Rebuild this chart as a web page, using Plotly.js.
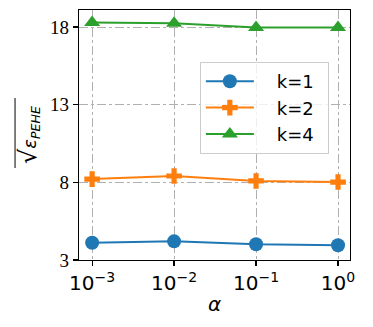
<!DOCTYPE html>
<html>
<head>
<meta charset="utf-8">
<script src="https://cdn.plot.ly/plotly-3.0.1.min.js"></script>
<style>
  html, body { margin: 0; padding: 0; background: #fff; }
  #chart { width: 373px; height: 327px; }
</style>
</head>
<body>
<div id="chart"></div>
<script>
/* ---- data ---- */
const ALPHAS = [0.001, 0.01, 0.1, 1];
const ALPHA_LABELS = ['10<sup>−3</sup>', '10<sup>−2</sup>', '10<sup>−1</sup>', '10<sup>0</sup>'];
const K1 = [4.11, 4.20, 4.01, 3.95];
const K2 = [8.21, 8.41, 8.09, 8.02];
const K4 = [18.30, 18.24, 17.98, 17.97];
const Y_TICKS = [3, 8, 13, 18];

const SERIES = [
  { name: 'k=1', y: K1, color: '#1f77b4', symbol: 'circle', size: 14 },
  { name: 'k=2', y: K2, color: '#ff7f0e', symbol: 'cross', size: 13 },
  { name: 'k=4', y: K4, color: '#2ca02c', symbol: 'triangle-up', size: 14 },
];

// matplotlib leaves a wider gap between handle and label
const LEGEND_PAD = '\u2002\u2002';

const traces = SERIES.map(s => ({
  x: ALPHAS,
  y: s.y,
  type: 'scatter',
  mode: 'lines+markers',
  name: LEGEND_PAD + s.name + '\u2002',
  line: { color: s.color, width: 2 },
  marker: { color: s.color, symbol: s.symbol, size: s.size, line: { width: 0 } },
}));

const GRID = { showgrid: true, gridcolor: '#b0b0b0', gridwidth: 1, griddash: 'dashdot' };

const layout = {
  width: 373,
  height: 327,
  margin: { l: 79, r: 23, t: 10, b: 67 },
  paper_bgcolor: '#fff',
  plot_bgcolor: '#fff',
  font: { family: 'DejaVu Sans, sans-serif', size: 17, color: '#000' },
  showlegend: true,
  legend: {
    x: 0.446, y: 0.792, xanchor: 'left', yanchor: 'top',
    bgcolor: 'rgba(255,255,255,0.8)', bordercolor: '#cccccc', borderwidth: 1,
    font: { family: 'DejaVu Sans, sans-serif', size: 18, color: '#000' },
    itemwidth: 48, tracegroupgap: 0,
  },
  xaxis: {
    ...GRID,
    type: 'log',
    range: [-3.16, 0.146],
    tickvals: ALPHAS,
    ticktext: ALPHA_LABELS,
    tickfont: { family: 'DejaVu Sans, sans-serif', size: 20, color: '#000' },
    ticks: 'outside', ticklen: 5, tickwidth: 1.2, tickcolor: '#000',
    showline: true, linecolor: '#000', linewidth: 1.3, mirror: true,
    zeroline: false,
    title: { text: '<i>α</i>', font: { family: 'DejaVu Sans, sans-serif', size: 20, color: '#000' }, standoff: 2 },
  },
  yaxis: {
    ...GRID,
    range: [3, 19.1],
    tickvals: Y_TICKS,
    tickfont: { family: 'Liberation Serif, serif', size: 19, color: '#000' },
    ticks: 'outside', ticklen: 5, tickwidth: 1.2, tickcolor: '#000',
    showline: true, linecolor: '#000', linewidth: 1.3, mirror: true,
    zeroline: false,
    title: {
      text: '<span style="font-size:24px">√</span><i>ε<sub>PEHE</sub></i>',
      font: { family: 'DejaVu Sans, sans-serif', size: 18, color: '#000' },
      standoff: 8,
    },
  },
  // radical bar over the y title
  shapes: [{
    type: 'line', xref: 'paper', yref: 'paper',
    x0: -0.236, x1: -0.236, y0: 0.368, y1: 0.648,
    line: { color: '#000', width: 1 },
  }],
};

Plotly.newPlot('chart', traces, layout, { displayModeBar: false, staticPlot: true });
</script>
</body>
</html>
